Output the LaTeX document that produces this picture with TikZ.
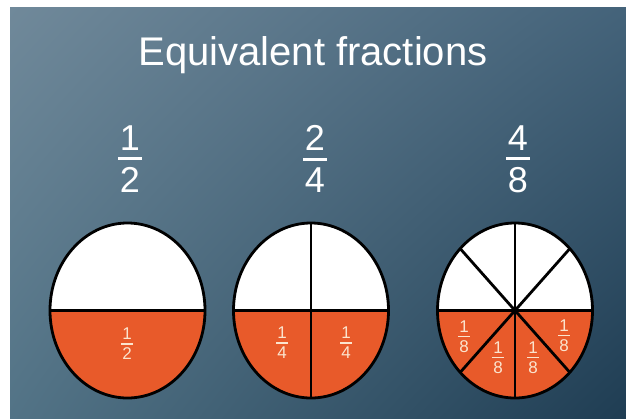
\documentclass[tikz,border=0pt]{standalone}
\usepackage{fontspec}
\setmainfont{Liberation Sans}
\usepackage{xcolor}
\usetikzlibrary{positioning,shadings}

\definecolor{slideTL}{HTML}{70899A}
\definecolor{slideTR}{HTML}{44637A}
\definecolor{slideBL}{HTML}{527386}
\definecolor{slideBR}{HTML}{1F3D53}
\definecolor{pieorange}{HTML}{E85A2A}
\definecolor{labelcream}{HTML}{FBE4CE}

% stacked fraction: numerator, bar, denominator
\newcommand{\vfrac}[2]{\vbox{\offinterlineskip\halign{\hfil##\hfil\cr#1\cr\noalign{\kern.2em}\rule{.66em}{.075em}\cr\noalign{\kern.2em}#2\cr}}}

\begin{document}
\begin{tikzpicture}[x=1pt, y=-1pt,
  heading/.style={text=white, inner sep=0pt, font=\fontsize{40}{44}\selectfont},
  bigfrac/.style={text=white, inner sep=0pt, font=\fontsize{36}{40}\selectfont},
  smallfrac/.style={text=labelcream, inner sep=0pt, font=\fontsize{17}{19}\selectfont},
  piece/.style={draw=black, line width=2.8pt}
]
  \useasboundingbox (0,0) rectangle (626,418);
  \fill[white] (0,0) rectangle (626,418);
  \shade[upper left=slideTL, upper right=slideTR, lower left=slideBL, lower right=slideBR]
    (10,7) rectangle (626,418);

  \node[heading, anchor=base] (title) at (313,65) {Equivalent fractions};

  \node[bigfrac] (f1) at (130,159) {\vfrac{1}{2}};
  \node[bigfrac] (f2) at (315,159) {\vfrac{2}{4}};
  \node[bigfrac] (f3) at (518,159) {\vfrac{4}{8}};

  \coordinate (c1) at (127.5,310.5);
  \coordinate (c2) at (311,310.5);
  \coordinate (c3) at (515,310.5);

  % white plate, orange lower half
  \foreach \c in {c1,c2,c3}{
    \fill[white] (\c) ellipse [x radius=77.5, y radius=87.5];
    \fill[pieorange] (\c) ++(77.5,0) arc [start angle=0, end angle=180, x radius=77.5, y radius=87.5] -- cycle;
    \draw[piece] (\c) ++(-77.5,0) -- ++(155,0);
  }
  \draw[piece] (c2) ++(0,-87.5) -- ++(0,175);
  \foreach \a in {45,90,...,315}
    \draw[piece] (c3) -- ++(\a:77.5 and 87.5);
  \foreach \c in {c1,c2,c3}
    \draw[piece] (\c) ellipse [x radius=77.5, y radius=87.5];

  \node[smallfrac] (h1) at (127,344) {\vfrac{1}{2}};
  \node[smallfrac] (q1) at (282,343) {\vfrac{1}{4}};
  \node[smallfrac] (q2) at (346,343) {\vfrac{1}{4}};
  \node[smallfrac] (e1) at (464,337) {\vfrac{1}{8}};
  \node[smallfrac] (e2) at (498,358) {\vfrac{1}{8}};
  \node[smallfrac] (e3) at (533,358) {\vfrac{1}{8}};
  \node[smallfrac] (e4) at (564,336) {\vfrac{1}{8}};
\end{tikzpicture}
\end{document}
